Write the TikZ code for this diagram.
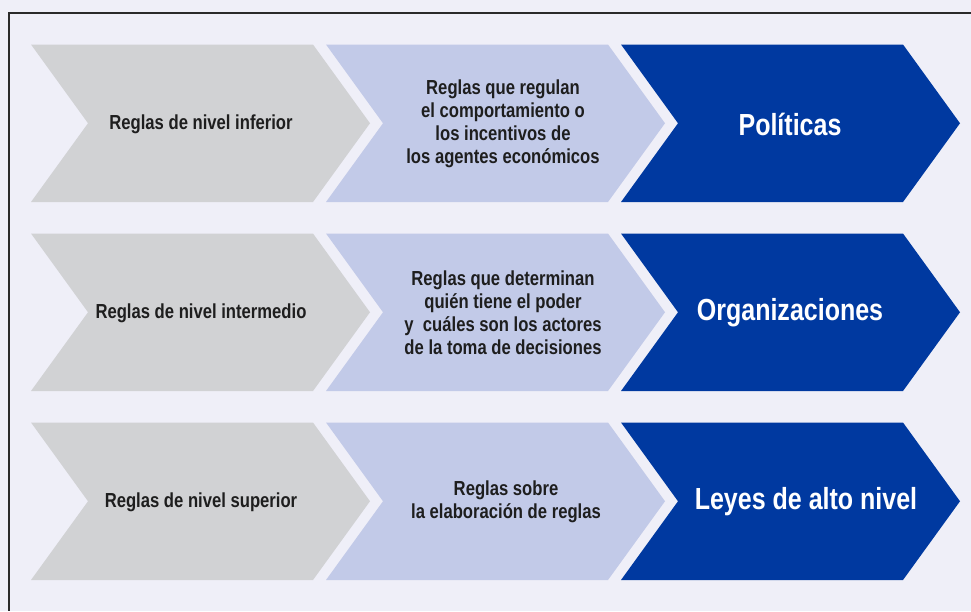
\documentclass[tikz,border=0pt]{standalone}
\usepackage{fontspec}
\usepackage{xcolor}
\setmainfont{Liberation Sans}[FakeStretch=0.82]

\definecolor{bgpanel}{HTML}{EFEFF8}
\definecolor{greystep}{HTML}{D1D2D4}
\definecolor{palestep}{HTML}{C2CAE8}
\definecolor{deepstep}{HTML}{0039A0}
\definecolor{inktext}{HTML}{1E1E1E}
\definecolor{framerule}{HTML}{2A2A2A}

% one chevron band: top-left x, top y, fill colour
\newcommand{\arrowband}[3]{%
  \fill[#3] (#1,#2) -- ++(282,0) -- ++(57,78.75) -- ++(-57,78.75)
    -- ++(-282,0) -- ++(57,-78.75) -- cycle;}

\tikzset{
  lowtext/.style={text=inktext, font=\bfseries\fontsize{20.3}{22.9}\selectfont, align=center},
  midtext/.style={text=inktext, font=\bfseries\fontsize{20.3}{22.9}\selectfont, align=center},
  toptext/.style={text=white, font=\bfseries\fontsize{30.5}{34}\selectfont, align=center}
}

\begin{document}
\begin{tikzpicture}[x=1pt, y=-1pt]
  % Page and panel background
  \useasboundingbox (0,0) rectangle (971,611);
  \fill[bgpanel] (0,0) rectangle (971,611);
  \draw[framerule, line width=2pt] (971,13) -- (9,13) -- (9,611);

  % Draw the chevrons, row by row
  \foreach \rowtop in {44.5,233.5,422.5} {
    \arrowband{31}{\rowtop}{greystep}
    \arrowband{326}{\rowtop}{palestep}
    \arrowband{621}{\rowtop}{deepstep}
  }

  % First row
  \node[lowtext] (low1) at (201,124) {Reglas de nivel inferior};
  \node[midtext] (mid1) at (503,124) {Reglas que regulan\\el comportamiento o\\los incentivos de\\los agentes económicos};
  \node[toptext] (top1) at (790,124) {Políticas};

  % Second row
  \node[lowtext] (low2) at (201,313) {Reglas de nivel intermedio};
  \node[midtext] (mid2) at (503,313) {Reglas que determinan\\quién tiene el poder\\y~~cuáles son los actores\\de la toma de decisiones};
  \node[toptext] (top2) at (790,313) {Organizaciones};

  % Third row
  \node[lowtext] (low3) at (201,502) {Reglas de nivel superior};
  \node[midtext] (mid3) at (506,502) {Reglas sobre\\la elaboración de reglas};
  \node[toptext] (top3) at (806,502) {Leyes de alto nivel};
\end{tikzpicture}
\end{document}
